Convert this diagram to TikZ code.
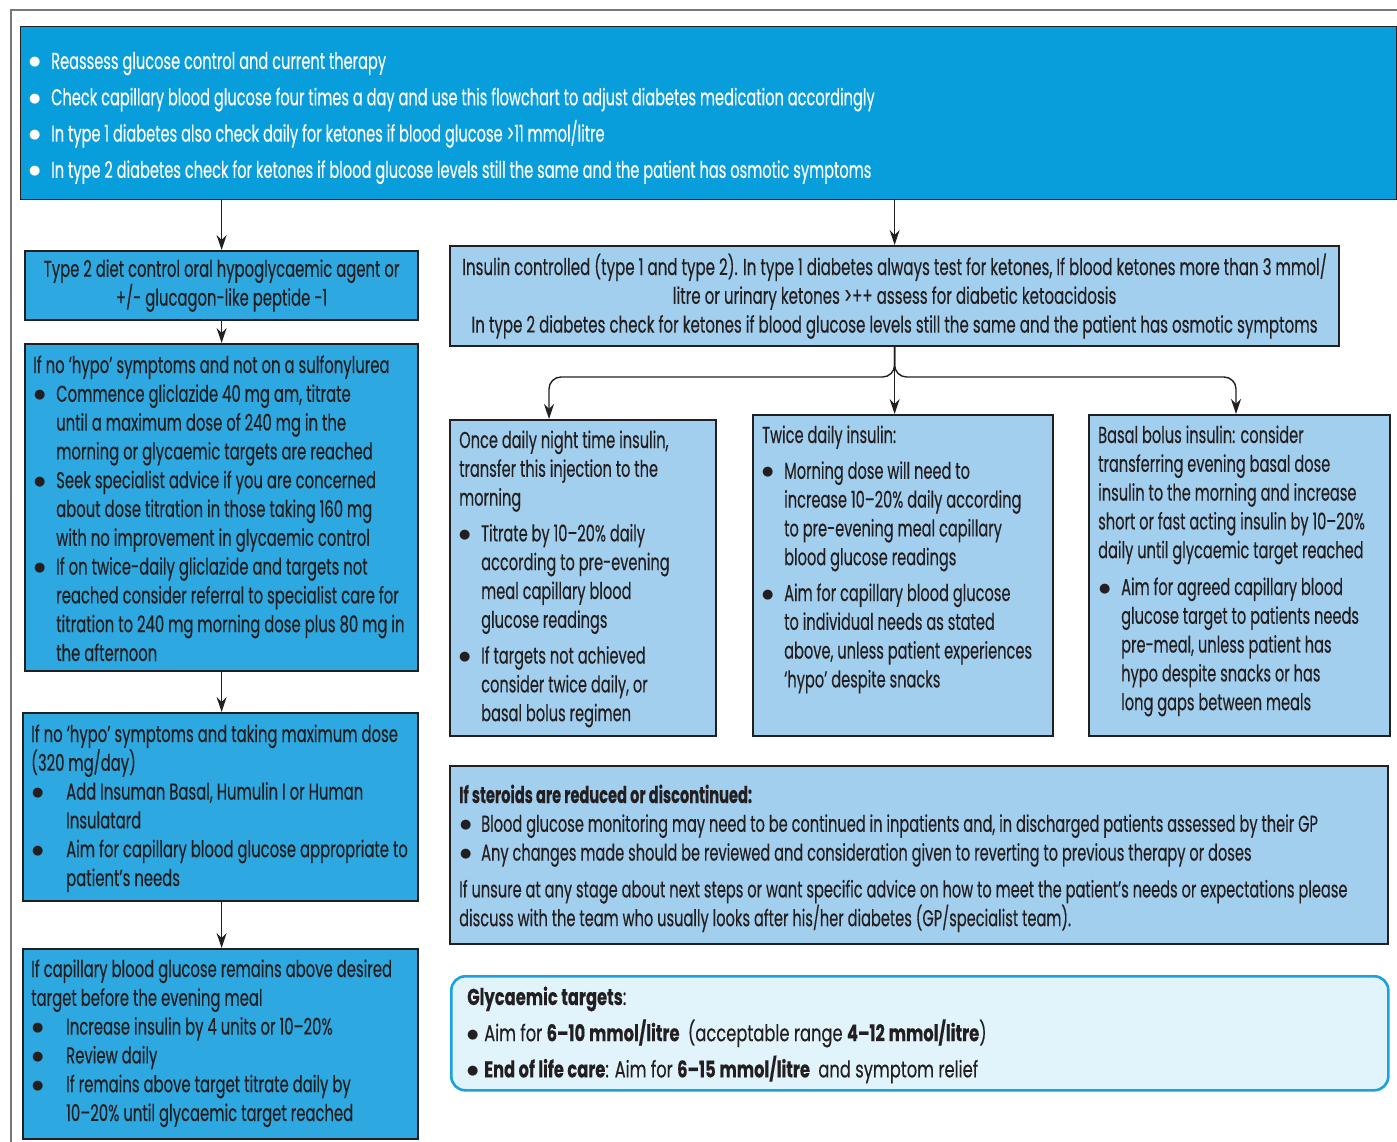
\documentclass[tikz,border=0pt]{standalone}
\usepackage{fontspec}
\setmainfont{Poppins}[FakeStretch=0.635, FakeBold=0.3]
\newfontfamily\gfont{Poppins}[FakeStretch=0.71, FakeBold=0.3]
\newfontfamily\lfont{Poppins}[FakeStretch=0.645, FakeBold=0.3]
\newfontfamily\ifont{Poppins}[FakeStretch=0.655, FakeBold=0.3]
\newfontfamily\symf{DejaVu Sans}
\usetikzlibrary{arrows.meta}
\definecolor{topblue}{RGB}{8,158,219}
\definecolor{midblue}{RGB}{46,168,224}
\definecolor{ltblue}{RGB}{163,207,238}
\definecolor{pale}{RGB}{225,243,251}
\definecolor{rim}{RGB}{27,161,221}
\definecolor{ink}{RGB}{35,31,32}
\definecolor{framegray}{RGB}{120,120,120}
\newcommand\bdot{\raisebox{3pt}{\symf\fontsize{13}{13}\selectfont ●}}
\newcommand\TXT[2][28.8]{\vtop{\baselineskip=#1pt\lineskiplimit=-20pt\lineskip=0pt #2}}
\newcommand\LN[1]{\hbox{#1}}
\newcommand\BU[3]{\hbox{\makebox[#2pt][l]{\hspace*{#1pt}\bdot}#3}}
\newcommand\CL[2]{\hbox{\hspace*{#1pt}#2}}
\newcommand\GAP[1]{\vskip#1pt}
\begin{document}
\begin{tikzpicture}[x=1pt,y=-1pt,
  basebox/.style={anchor=north west, inner sep=0pt, draw=ink, line width=2.2pt,
     font=\fontsize{23}{28.8}\selectfont, text=ink, align=center},
  topbox/.style={basebox, fill=topblue, line width=1.2pt},
  midbox/.style={basebox, fill=midblue, font=\lfont\fontsize{23}{28.8}\selectfont},
  ltbox/.style={basebox, fill=ltblue},
  glybox/.style={basebox, fill=pale, draw=rim, line width=2.6pt, rounded corners=14pt},
  txt/.style={anchor=base west, inner sep=0pt, font=\fontsize{23}{28.8}\selectfont, text=ink},
  ltxt/.style={txt, font=\lfont\fontsize{23}{28.8}\selectfont},
  arr/.style={-{Stealth[length=15pt,width=10pt]}, line width=1.4pt, draw=ink},
]
\useasboundingbox (0,0) rectangle (1397,1142);
\fill[white] (0,0) rectangle (1397,1142);
\draw[framegray, line width=1.6pt] (11,10) rectangle (1430,1170);

% boxes
\node[topbox, minimum width=1376pt, minimum height=173pt] (top) at (20,26) {};
\node[midbox, minimum width=393pt, minimum height=69pt] (lb1) at (24,250)
  {Type 2 diet control oral hypoglycaemic agent or\\+/- glucagon-like peptide -1};
\node[midbox, minimum width=393pt, minimum height=327pt] (lb2) at (24,343) {};
\node[midbox, minimum width=395pt, minimum height=188pt] (lb3) at (22,712) {};
\node[midbox, minimum width=395pt, minimum height=190pt] (lb4) at (22,948) {};
\node[ltbox, minimum width=889pt, minimum height=100pt, font=\ifont\fontsize{23}{28.8}\selectfont] (ins) at (449,245)
  {Insulin controlled (type 1 and type 2). In type 1 diabetes always test for ketones, If blood ketones more than 3\,mmol/\\
   litre or urinary ketones >++ assess for diabetic ketoacidosis\\
   In type 2 diabetes check for ketones if blood glucose levels still the same and the patient has osmotic symptoms};
\node[ltbox, minimum width=266pt, minimum height=316pt] (bA) at (449,419) {};
\node[ltbox, minimum width=300pt, minimum height=321pt] (bB) at (752,414) {};
\node[ltbox, minimum width=301pt, minimum height=321pt] (bC) at (1088,414) {};
\node[ltbox, minimum width=938pt, minimum height=178pt] (st) at (449,765) {};
\node[glybox, minimum width=937pt, minimum height=114pt] (gl) at (450,975) {};

% texts
\node[txt, text=white] (ttop) at (29,69) {\TXT[36.3]{%
  \BU{0}{22}{Reassess glucose control and current therapy}
  \BU{0}{22}{Check capillary blood glucose four times a day and use this flowchart to adjust diabetes medication accordingly}
  \BU{0}{22}{In type 1 diabetes also check daily for ketones if blood glucose >11\,mmol/litre}
  \BU{0}{22}{In type 2 diabetes check for ketones if blood glucose levels still the same and the patient has osmotic symptoms}}};

\node[ltxt] (tlb2) at (33,373) {\TXT{%
  \LN{If no ‘hypo’ symptoms and not on a sulfonylurea}
  \BU{1}{23}{Commence gliclazide 40\,mg am, titrate}
  \CL{23}{until a maximum dose of 240\,mg in the}
  \CL{23}{morning or glycaemic targets are reached}
  \BU{1}{23}{Seek specialist advice if you are concerned}
  \CL{23}{about dose titration in those taking 160\,mg}
  \CL{23}{with no improvement in glycaemic control}
  \BU{1}{23}{If on twice-daily gliclazide and targets not}
  \CL{23}{reached consider referral to specialist care for}
  \CL{23}{titration to 240\,mg morning dose plus 80\,mg in}
  \CL{23}{the afternoon}}};

\node[ltxt] (tlb3) at (31,742) {\TXT{%
  \LN{If no ‘hypo’ symptoms and taking maximum dose}
  \LN{(320\,mg/day)}
  \BU{1}{35}{Add Insuman Basal, Humulin I or Human}
  \CL{35}{Insulatard}
  \BU{1}{35}{Aim for capillary blood glucose appropriate to}
  \CL{35}{patient’s needs}}};

\node[ltxt] (tlb4) at (31,977) {\TXT{%
  \LN{If capillary blood glucose remains above desired}
  \LN{target before the evening meal}
  \BU{1}{35}{Increase insulin by 4 units or 10–20\%}
  \BU{1}{35}{Review daily}
  \BU{1}{35}{If remains above target titrate daily by}
  \CL{35}{10–20\% until glycaemic target reached}}};

\node[txt] (tA) at (459,448) {\TXT{%
  \LN{Once daily night time insulin,}
  \LN{transfer this injection to the}
  \LN{morning}
  \GAP{7}
  \BU{0}{22}{Titrate by 10–20\% daily}
  \CL{22}{according to pre-evening}
  \CL{22}{meal capillary blood}
  \CL{22}{glucose readings}
  \GAP{7}
  \BU{0}{22}{If targets not achieved}
  \CL{22}{consider twice daily, or}
  \CL{22}{basal bolus regimen}}};

\node[txt] (tB) at (762,443) {\TXT{%
  \LN{Twice daily insulin:}
  \GAP{7}
  \BU{0}{22}{Morning dose will need to}
  \CL{22}{increase 10–20\% daily according}
  \CL{22}{to pre-evening meal capillary}
  \CL{22}{blood glucose readings}
  \GAP{7}
  \BU{0}{22}{Aim for capillary blood glucose}
  \CL{22}{to individual needs as stated}
  \CL{22}{above, unless patient experiences}
  \CL{22}{‘hypo’ despite snacks}}};

\node[txt] (tC) at (1098,443) {\TXT{%
  \LN{Basal bolus insulin: consider}
  \LN{transferring evening basal dose}
  \LN{insulin to the morning and increase}
  \LN{short or fast acting insulin by 10–20\%}
  \LN{daily until glycaemic target reached}
  \GAP{8}
  \BU{1}{23}{Aim for agreed capillary blood}
  \CL{23}{glucose target to patients needs}
  \CL{23}{pre-meal, unless patient has}
  \CL{23}{hypo despite snacks or has}
  \CL{23}{long gaps between meals}}};

\node[txt] (tst) at (459,803) {\TXT{%
  \LN{\textbf{If steroids are reduced or discontinued:}}
  \BU{1}{22}{Blood glucose monitoring may need to be continued in inpatients and, in discharged patients assessed by their GP}
  \BU{1}{22}{Any changes made should be reviewed and consideration given to reverting to previous therapy or doses}
  \GAP{8}
  \LN{If unsure at any stage about next steps or want specific advice on how to meet the patient’s needs or expectations please}
  \LN{discuss with the team who usually looks after his/her diabetes (GP/specialist team).}}};

\node[txt, font=\gfont\fontsize{23}{28.8}\selectfont] (tgl) at (467,1005) {\TXT[36.2]{%
  \LN{\textbf{Glycaemic targets}:}
  \BU{0}{17}{Aim for \textbf{6–10\,mmol/litre}\hspace{4pt} (acceptable range \textbf{4–12\,mmol/litre})}
  \BU{0}{17}{\textbf{End of life care}: Aim for \textbf{6–15\,mmol/litre}\hspace{4pt} and symptom relief}}};

% connectors
\coordinate (split) at (893,377);
\coordinate (aA) at (549,419);
\coordinate (aC) at (1236,414);
\draw[arr] (top.south -| lb1.north) -- (lb1.north);
\draw[arr] (lb1.south) -- (lb2.north);
\draw[arr] (lb2.south) -- (lb2.south |- lb3.north);
\draw[arr] (lb3.south -| lb2.south) -- (lb2.south |- lb4.north);
\draw[arr] (top.south -| ins.north) -- (ins.north);
\draw[arr, rounded corners=12pt] (ins.south) |- (aA |- split) -- (aA);
\draw[arr] (ins.south) -- (ins.south |- bB.north);
\draw[arr, rounded corners=12pt] (ins.south) |- (aC |- split) -- (aC);
\end{tikzpicture}
\end{document}
